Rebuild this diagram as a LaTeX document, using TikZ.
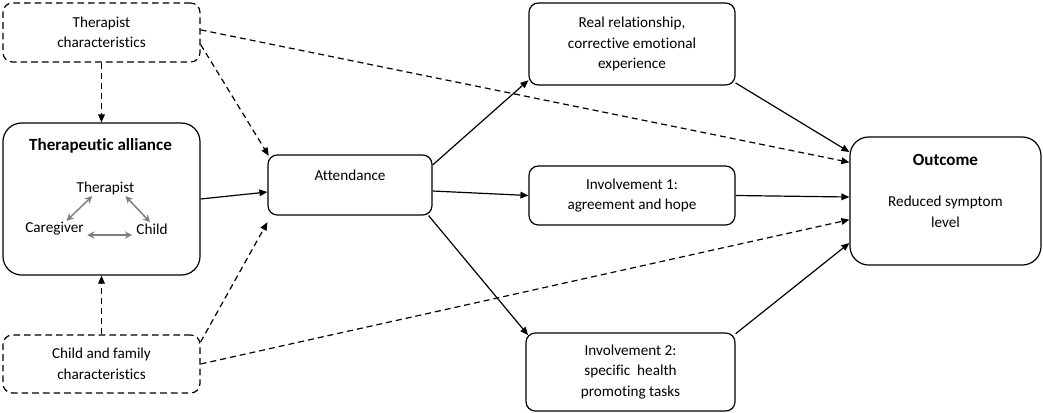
\documentclass[tikz,border=0pt]{standalone}
\usepackage{fontspec}
\setmainfont{Carlito}[Ligatures=NoCommon]
\usetikzlibrary{arrows.meta}
\tikzset{
  box/.style={shape=rectangle,draw=black,line width=0.9pt,rounded corners=7pt,align=center,inner sep=0pt},
  dbox/.style={box,dash pattern=on 5pt off 3pt},
  bigbox/.style={box,rounded corners=14pt},
  link/.style={draw=black,line width=0.9pt,-{Triangle[length=6pt,width=5pt]}},
  dlink/.style={link,dash pattern=on 4.5pt off 3pt},
  tie/.style={draw=black!50,line width=1.1pt,{Stealth[length=5.5pt,width=5.5pt]}-{Stealth[length=5.5pt,width=5.5pt]}},
}
\newcommand{\headfont}{\fontsize{12.8pt}{15.4pt}\selectfont\bfseries}
\begin{document}
\begin{tikzpicture}[x=0.75pt,y=-0.75pt,font=\fontsize{11.4pt}{15.4pt}\selectfont]
  \useasboundingbox (0,0) rectangle (1043,412);
  \node[dbox,minimum width=147.75pt,minimum height=44.25pt] (tc) at (101.5,32.5) {Therapist\\characteristics};
  \node[bigbox,minimum width=147.75pt,minimum height=114pt] (ta) at (101.5,199) {};
  \node[dbox,minimum width=147.75pt,minimum height=43.5pt] (cf) at (101.5,364) {Child and family\\characteristics};
  \node[box,minimum width=123pt,minimum height=45pt] (att) at (350,185) {Attendance\\\mbox{}};
  \node[box,minimum width=154.5pt,minimum height=61.5pt] (real) at (632,44) {Real relationship,\\corrective emotional\\experience};
  \node[box,minimum width=154.5pt,minimum height=44.25pt] (inv1) at (632,195.5) {Involvement 1:\\agreement and hope};
  \node[box,minimum width=156.75pt,minimum height=58.5pt] (inv2) at (630.5,372) {Involvement 2:\\specific\ \ health\\promoting tasks};
  \node[bigbox,minimum width=143.25pt,minimum height=96pt] (out) at (945.5,201) {{\headfont Outcome}\\\mbox{}\\Reduced symptom\\level\\\mbox{}};
  % inside the alliance box
  \node (title) at (100.5,146) {\headfont Therapeutic alliance};
  \node[inner sep=1pt] (ther) at (105.5,188) {Therapist};
  \node[inner sep=1pt] (cg) at (54.5,229) {Caregiver};
  \node[inner sep=1pt] (ch) at (152,229) {Child};
  \path ([xshift=9pt]cg.north) edge[tie] ([xshift=-10pt]ther.south);
  \path ([xshift=15pt]ther.south) edge[tie] ([xshift=-1.5pt]ch.north);
  \path ([yshift=-4.5pt,xshift=1.5pt]cg.east) edge[tie] ([yshift=-4.5pt,xshift=-2pt]ch.west);
  % dashed influences
  \path (tc.south) edge[dlink] (ta.north);
  \path (cf.north) edge[dlink] (ta.south);
  \path ([yshift=-9pt]tc.east) edge[dlink] ([xshift=1pt,yshift=-1pt]att.north west);
  \path ([yshift=2pt]tc.east) edge[dlink] ([yshift=29pt]out.west);
  \path ([yshift=16.5pt]cf.east) edge[dlink] ([yshift=-5pt]att.south west);
  \path (cf.east) edge[dlink] ([yshift=-14pt]out.west);
  % solid paths
  \path ([yshift=0pt]ta.east) edge[link] ([yshift=-5.25pt]att.west);
  \path ([yshift=15pt]att.east) edge[link] ([yshift=4pt]real.south west);
  \path ([yshift=-4.5pt]att.east) edge[link] (inv1.west);
  \path ([xshift=-3pt]att.south east) edge[link] ([xshift=2pt,yshift=-2pt]inv2.north west);
  \path ([yshift=2pt]real.south east) edge[link] ([yshift=36.75pt]out.west);
  \path (inv1.east) edge[link] ([yshift=3pt]out.west);
  \path ([yshift=-1pt]inv2.north east) edge[link] ([yshift=-31.5pt]out.west);
\end{tikzpicture}
\end{document}
